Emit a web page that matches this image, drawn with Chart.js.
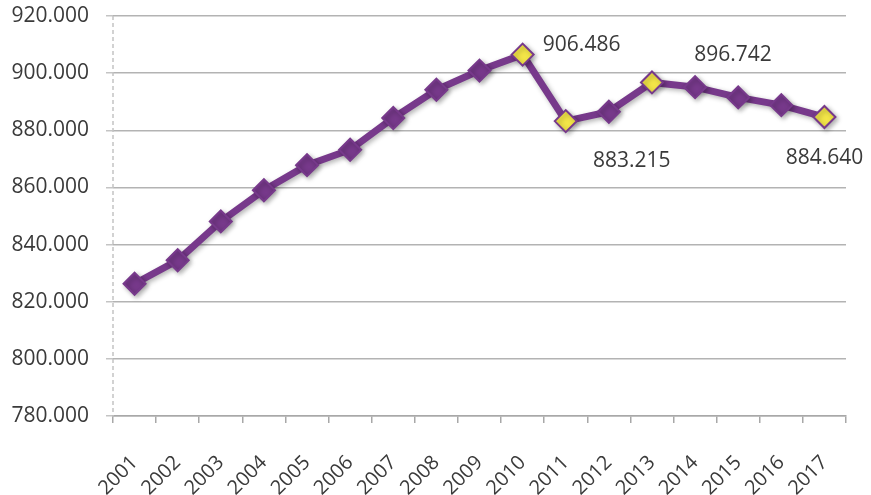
<!DOCTYPE html>
<html>
<head>
<meta charset="utf-8">
<script src="https://cdn.jsdelivr.net/npm/chart.js@4.4.1/dist/chart.umd.min.js"></script>
<style>
  html, body { margin: 0; padding: 0; background: #fff; }
  #wrap { width: 871px; height: 495px; }
</style>
</head>
<body>
<div id="wrap"><canvas id="myChart" width="871" height="495"></canvas></div>
<script>
const anios = ['2001', '2002', '2003', '2004', '2005', '2006', '2007', '2008', '2009',
               '2010', '2011', '2012', '2013', '2014', '2015', '2016', '2017'];
const valores = [826300, 834500, 848100, 859000, 867800, 873200, 884300, 894200, 900900,
                 906486, 883215, 886500, 896742, 895100, 891500, 888800, 884640];
const ticksY = [780000, 800000, 820000, 840000, 860000, 880000, 900000, 920000];
// puntos destacados con su etiqueta de valor
const destacados = [9, 10, 12, 16];

const morado = '#77398b';
const amarillo = '#f3e548';
const texto = '#3a3a3a';

// 906486 -> "906.486"
function formato(v) {
  return String(v).replace(/\B(?=(\d{3})+(?!\d))/g, '.');
}

const colorPunto = valores.map((v, i) => destacados.includes(i) ? amarillo : morado);

// desplazamiento de cada etiqueta respecto a su punto
const posEtiquetas = { 9: [59, -10], 10: [66, 40], 12: [81, -27], 16: [0, 41] };

const etiquetas = {
  id: 'etiquetas',
  afterDatasetsDraw(chart) {
    const ctx = chart.ctx;
    const meta = chart.getDatasetMeta(0);
    ctx.save();
    ctx.font = '21px "Open Sans"';
    ctx.fillStyle = texto;
    ctx.textAlign = 'center';
    ctx.textBaseline = 'middle';
    destacados.forEach(i => {
      const p = meta.data[i];
      const d = posEtiquetas[i];
      ctx.fillText(formato(valores[i]), p.x + d[0], p.y + d[1]);
    });
    ctx.restore();
  }
};

// eje vertical punteado
const ejePunteado = {
  id: 'ejePunteado',
  beforeDatasetsDraw(chart) {
    const ctx = chart.ctx;
    const a = chart.chartArea;
    ctx.save();
    ctx.strokeStyle = '#c4c4c4';
    ctx.lineWidth = 1.5;
    ctx.setLineDash([4, 3]);
    ctx.beginPath();
    ctx.moveTo(a.left, a.top);
    ctx.lineTo(a.left, a.bottom);
    ctx.stroke();
    ctx.restore();
  }
};

// sombra suave bajo la línea y los rombos
const sombra = {
  id: 'sombra',
  beforeDatasetDraw(chart) {
    const ctx = chart.ctx;
    ctx.save();
    ctx.shadowColor = 'rgba(0,0,0,0.3)';
    ctx.shadowBlur = 5;
    ctx.shadowOffsetX = 2;
    ctx.shadowOffsetY = 2;
  },
  afterDatasetDraw(chart) {
    chart.ctx.restore();
  }
};

var ctx = document.getElementById('myChart').getContext('2d');
var chart = new Chart(ctx, {
  type: 'line',
  data: {
    labels: anios,
    datasets: [{
      data: valores,
      borderColor: morado,
      borderWidth: 7,
      tension: 0,
      pointStyle: 'rectRot',
      pointRadius: 11,
      pointBackgroundColor: colorPunto,
      pointBorderColor: morado,
      pointBorderWidth: 2
    }]
  },
  options: {
    responsive: false,
    animation: false,
    layout: { padding: { top: 16, right: 25, left: 0, bottom: 0 } },
    plugins: {
      legend: { display: false },
      tooltip: { enabled: false }
    },
    scales: {
      x: {
        offset: true,
        grid: {
          offset: true,
          drawOnChartArea: false,
          drawTicks: true,
          tickLength: 7,
          tickColor: '#a8a8a8',
          lineWidth: 1.5
        },
        border: { color: '#a8a8a8', width: 1.5 },
        ticks: {
          color: texto,
          font: { family: 'Open Sans', size: 20 },
          minRotation: 45,
          maxRotation: 45,
          padding: 28,
          autoSkip: false
        },
        afterFit(scale) {
          scale.height = 79;
          scale.paddingLeft = 0;
          scale.paddingRight = 0;
        }
      },
      y: {
        min: 780000,
        max: 920000,
        afterBuildTicks(scale) {
          scale.ticks = ticksY.map(v => ({ value: v }));
        },
        grid: {
          color: '#b3b3b3',
          lineWidth: 1.5,
          tickLength: 7,
          tickColor: '#c4c4c4'
        },
        border: { display: false },
        ticks: {
          color: texto,
          font: { family: 'Open Sans', size: 21 },
          padding: 17,
          callback: v => formato(v)
        },
        afterFit(scale) {
          scale.width = 113;
          scale.paddingTop = 0;
          scale.paddingBottom = 0;
        }
      }
    }
  },
  plugins: [ejePunteado, sombra, etiquetas]
});
</script>
</body>
</html>
